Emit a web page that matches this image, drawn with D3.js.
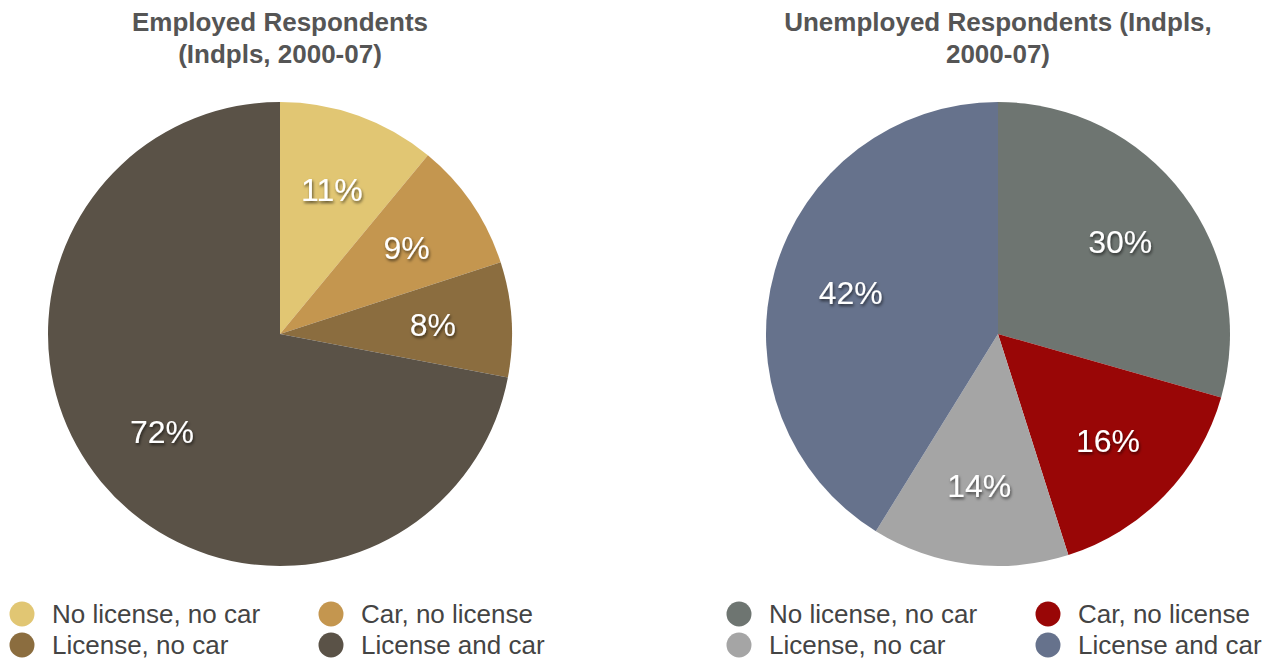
<!DOCTYPE html>
<html>
<head>
<meta charset="utf-8">
<script src="https://cdn.jsdelivr.net/npm/d3@7"></script>
<style>
body{margin:0;background:#fff;}
text{font-family:"Liberation Sans",Arial,Helvetica,sans-serif;}
</style>
</head>
<body>
<script>
var w = 1279;
var h = 661;
var categories = ["No license, no car","Car, no license","License, no car","License and car"];
var employed = [11,9,8,72];
var unemployed = [30,16,14,42];
var employedColors = ["#e1c673","#c4964f","#8b6d3f","#5a5247"];
var unemployedColors = ["#6e7571","#990606","#a5a5a5","#66728c"];

var svg = d3.select("body")
            .append("svg")
            .attr("width",w)
            .attr("height",h);

// drop shadow for slice labels
var f = svg.append("defs").append("filter")
    .attr("id","shadow")
    .attr("x","-20%").attr("y","-20%")
    .attr("width","140%").attr("height","160%");
f.append("feDropShadow")
    .attr("dx",1).attr("dy",2)
    .attr("stdDeviation",1.5)
    .attr("flood-color","#000")
    .attr("flood-opacity",0.6);

var radius = 232;
var pie = d3.pie().sort(null).value(function(d){return d;});
var arc = d3.arc().innerRadius(0).outerRadius(radius);
var labelArc = d3.arc().innerRadius(radius*0.66).outerRadius(radius*0.66);

function drawPie(cx, title, values, colors, legendX){
    var g = svg.append("g").attr("transform","translate("+cx+",334)");
    var arcs = pie(values);

    g.selectAll("path")
        .data(arcs)
        .enter()
        .append("path")
        .attr("d",arc)
        .attr("fill",function(d,i){return colors[i];});

    g.selectAll("text.lbl")
        .data(arcs)
        .enter()
        .append("text")
        .attr("class","lbl")
        .attr("transform",function(d){return "translate("+labelArc.centroid(d)+")";})
        .attr("text-anchor","middle")
        .attr("dy","0.36em")
        .attr("font-size",32)
        .attr("fill","#fff")
        .attr("filter","url(#shadow)")
        .text(function(d){return d.data+"%";});

    // title
    var t = svg.append("text")
        .attr("text-anchor","middle")
        .attr("font-size",26)
        .attr("font-weight","bold")
        .attr("fill","#555");
    title.forEach(function(line,i){
        t.append("tspan").attr("x",cx).attr("y",31+i*32).text(line);
    });

    // legend
    var leg = svg.append("g");
    var items = leg.selectAll("g")
        .data(categories)
        .enter()
        .append("g")
        .attr("transform",function(d,i){
            return "translate("+(legendX+(i%2)*309)+","+(614+Math.floor(i/2)*31)+")";
        });
    items.append("circle")
        .attr("r",12.5)
        .attr("fill",function(d,i){return colors[i];});
    items.append("text")
        .attr("x",30)
        .attr("dy","0.34em")
        .attr("font-size",26)
        .attr("fill","#444")
        .text(function(d){return d;});
}

drawPie(280, ["Employed Respondents","(Indpls, 2000-07)"], employed, employedColors, 22);
drawPie(998, ["Unemployed Respondents (Indpls,","2000-07)"], unemployed, unemployedColors, 739);
</script>
</body>
</html>
